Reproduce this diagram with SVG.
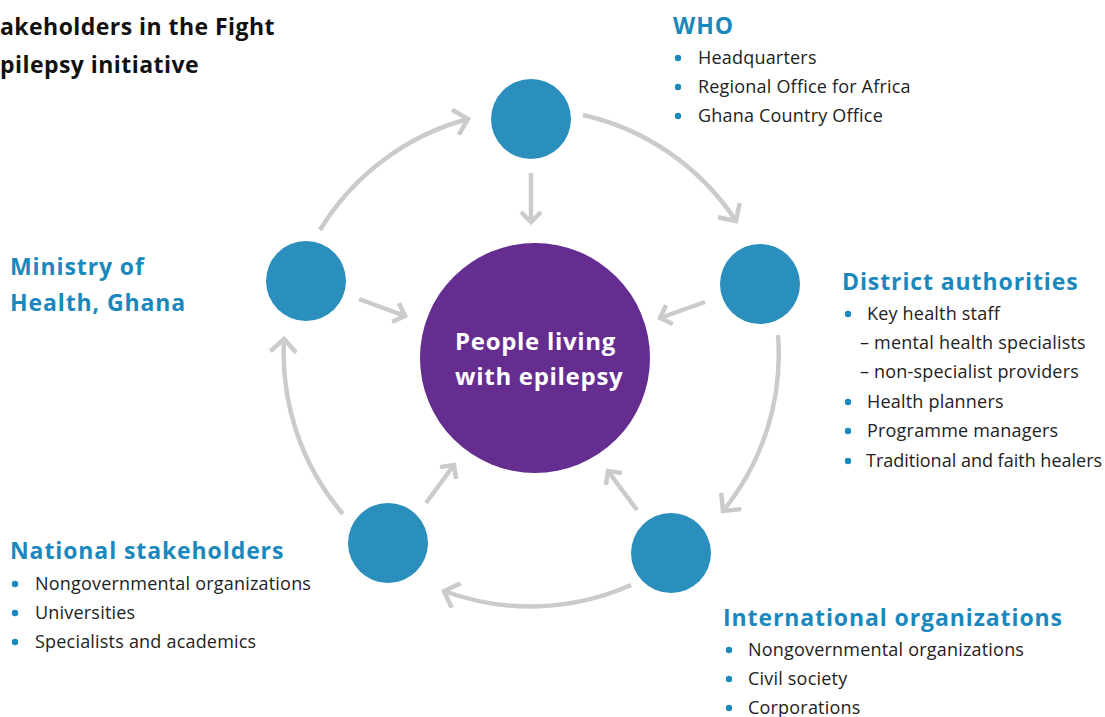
<svg xmlns="http://www.w3.org/2000/svg" width="1105" height="717" viewBox="0 0 1105 717">
<style>
.title{font-family:"Open Sans","Liberation Sans",sans-serif;font-weight:700;font-size:23px;fill:#111;letter-spacing:0.45px}
.hd{font-family:"Open Sans","Liberation Sans",sans-serif;font-weight:700;font-size:23px;fill:#1a88bd;letter-spacing:0.9px}
.it{font-family:"Open Sans","Liberation Sans",sans-serif;font-weight:400;font-size:18px;fill:#222;letter-spacing:0.2px}
.tight{letter-spacing:0px}
.ct{font-family:"Open Sans","Liberation Sans",sans-serif;font-weight:700;font-size:24px;fill:#fff;letter-spacing:0.7px}
.node{fill:#2a8fbd}
.dot{fill:#1a88bd}
.conn{fill:none;stroke:#cbcbcb;stroke-width:4.5}
</style>
<defs>
<marker id="ah" markerUnits="userSpaceOnUse" viewBox="-20 -14 24 28" markerWidth="24" markerHeight="28" refX="0" refY="0" orient="auto">
<path d="M-13,-13 L0,0 L-13,13" fill="none" stroke="#cbcbcb" stroke-width="4.5"/>
</marker>
<marker id="ahs" markerUnits="userSpaceOnUse" viewBox="-20 -14 24 28" markerWidth="24" markerHeight="28" refX="0" refY="0" orient="auto">
<path d="M-10,-10 L0,0 L-10,10" fill="none" stroke="#cbcbcb" stroke-width="4.5"/>
</marker>
</defs>
<g id="title">
<text class="title" x="0" y="35">akeholders in the Fight</text>
<text class="title" x="0" y="73">pilepsy initiative</text>
</g>
<g id="connectors">
<path class="conn" d="M320,230 A248,248 0 0 1 468,119" marker-end="url(#ah)"/>
<path class="conn" d="M583,115 A248,248 0 0 1 736,221" marker-end="url(#ah)"/>
<path class="conn" d="M778,335 A248,248 0 0 1 723,511" marker-end="url(#ah)"/>
<path class="conn" d="M631,585 A248,248 0 0 1 444,591" marker-end="url(#ah)"/>
<path class="conn" d="M343,514 A248,248 0 0 1 284,339" marker-end="url(#ah)"/>
<path class="conn" d="M531,173 L531,222" marker-end="url(#ahs)"/>
<path class="conn" d="M359,299 L405,316" marker-end="url(#ahs)"/>
<path class="conn" d="M705,302 L660,318" marker-end="url(#ahs)"/>
<path class="conn" d="M426,503 L454,465" marker-end="url(#ahs)"/>
<path class="conn" d="M637,510 L608,471" marker-end="url(#ahs)"/>
</g>
<g id="center">
<circle cx="535" cy="358" r="115" fill="#662d91"/>
<text class="ct" x="455" y="350">People living</text>
<text class="ct" x="455" y="385">with epilepsy</text>
</g>
<g id="who">
<circle class="node" cx="531" cy="119" r="40"/>
<text class="hd" x="673" y="34">WHO</text>
<circle class="dot" cx="678" cy="58" r="3.2"/>
<circle class="dot" cx="678" cy="87" r="3.2"/>
<circle class="dot" cx="678" cy="116" r="3.2"/>
<text class="it" x="698" y="64">Headquarters</text>
<text class="it" x="698" y="93">Regional Office for Africa</text>
<text class="it" x="698" y="122">Ghana Country Office</text>
</g>
<g id="district">
<circle class="node" cx="760" cy="284" r="40"/>
<text class="hd" x="842" y="290">District authorities</text>
<circle class="dot" cx="848" cy="314" r="3.2"/>
<circle class="dot" cx="848" cy="402" r="3.2"/>
<circle class="dot" cx="848" cy="431" r="3.2"/>
<circle class="dot" cx="848" cy="461" r="3.2"/>
<text class="it" x="867" y="320">Key health staff</text>
<text class="it" x="860" y="349">– mental health specialists</text>
<text class="it" x="860" y="378">– non-specialist providers</text>
<text class="it" x="867" y="408">Health planners</text>
<text class="it" x="867" y="437">Programme managers</text>
<text class="it tight" x="866" y="467">Traditional and faith healers</text>
</g>
<g id="international">
<circle class="node" cx="671" cy="553" r="40"/>
<text class="hd" x="723" y="626">International organizations</text>
<circle class="dot" cx="729" cy="650" r="3.2"/>
<circle class="dot" cx="729" cy="679" r="3.2"/>
<circle class="dot" cx="729" cy="708" r="3.2"/>
<text class="it" x="748" y="656">Nongovernmental organizations</text>
<text class="it" x="748" y="685">Civil society</text>
<text class="it" x="748" y="714">Corporations</text>
</g>
<g id="national">
<circle class="node" cx="388" cy="543" r="40"/>
<text class="hd" x="10" y="559">National stakeholders</text>
<circle class="dot" cx="15" cy="584" r="3.2"/>
<circle class="dot" cx="15" cy="613" r="3.2"/>
<circle class="dot" cx="15" cy="642" r="3.2"/>
<text class="it" x="35" y="590">Nongovernmental organizations</text>
<text class="it" x="35" y="619">Universities</text>
<text class="it" x="35" y="648">Specialists and academics</text>
</g>
<g id="ministry">
<circle class="node" cx="306" cy="281" r="40"/>
<text class="hd" x="10" y="275">Ministry of</text>
<text class="hd" x="10" y="311">Health, Ghana</text>
</g>
</svg>
